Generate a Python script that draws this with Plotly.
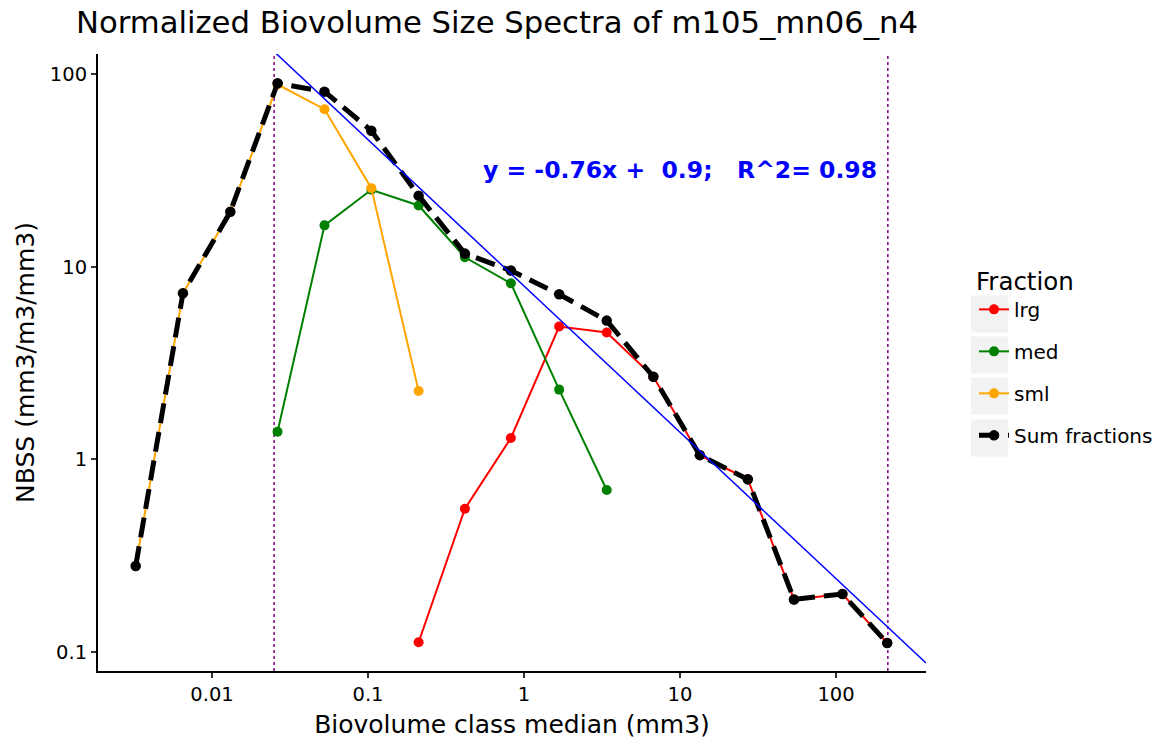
import numpy as np
import plotly.graph_objects as go

# ---------------- data ----------------
x_sum = [0.00324, 0.00651, 0.0131, 0.0263, 0.0526, 0.105, 0.211, 0.418, 0.824,
         1.68, 3.39, 6.75, 13.4, 27.2, 53.8, 110, 213]
y_sum = [0.279, 7.28, 19.3, 89.8, 81.2, 50.9, 23.4, 11.7, 9.55,
         7.19, 5.25, 2.68, 1.05, 0.787, 0.187, 0.1995, 0.111]

x_sml = [0.00324, 0.00651, 0.0131, 0.0263, 0.0526, 0.105, 0.211]
y_sml = [0.279, 7.28, 19.3, 88.4, 65.8, 25.6, 2.26]

x_med = [0.0263, 0.0526, 0.105, 0.211, 0.418, 0.824, 1.68, 3.39]
y_med = [1.39, 16.4, 25.1, 20.8, 11.2, 8.2, 2.30, 0.692]

x_lrg = [0.211, 0.418, 0.824, 1.68, 3.39, 6.75, 13.4, 27.2, 53.8, 110, 213]
y_lrg = [0.112, 0.553, 1.29, 4.89, 4.55, 2.68, 1.05, 0.787, 0.187, 0.1995, 0.111]

fraction_names = ["lrg", "med", "sml", "Sum fractions"]
fit_slope = -0.76
fit_intercept = 0.9
fit_r2 = 0.98
vlines_x = [0.025, 215]

x_ticks = [0.01, 0.1, 1, 10, 100]
x_ticktext = ["0.01", "0.1", "1", "10", "100"]
y_ticks = [0.1, 1, 10, 100]
y_ticktext = ["0.1", "1", "10", "100"]

title = "Normalized Biovolume Size Spectra of m105_mn06_n4"
x_title = "Biovolume class median (mm3)"
y_title = "NBSS (mm3/m3/mm3)"

# ---------------- layout constants ----------------
W, H = 1162, 740
ML, MR, MT, MB = 98, 236, 54, 69
XR = [-2.731, 2.577]
YR = [-1.100, 2.105]
FONT = "DejaVu Sans"

colors = {"lrg": "red", "med": "green", "sml": "orange", "Sum fractions": "black"}

fig = go.Figure()

# vertical dotted lines
ylo, yhi = 10 ** YR[0], 10 ** YR[1]
for xv in vlines_x:
    fig.add_trace(go.Scatter(x=[xv, xv], y=[ylo, yhi], mode="lines",
                             line=dict(color="purple", width=1.5, dash="dot"),
                             showlegend=False, hoverinfo="skip"))

series = [("lrg", x_lrg, y_lrg), ("med", x_med, y_med), ("sml", x_sml, y_sml)]
for name, xs, ys in series:
    fig.add_trace(go.Scatter(x=xs, y=ys, mode="lines+markers", name=name,
                             legendgroup=name,
                             line=dict(color=colors[name], width=2),
                             marker=dict(color=colors[name], size=10)))

fig.add_trace(go.Scatter(x=x_sum, y=y_sum, mode="lines+markers", name="Sum fractions",
                         legendgroup="Sum fractions",
                         line=dict(color="black", width=5, dash="20px,9px"),
                         marker=dict(color="black", size=10.5)))

# regression line (log10 space)
lx = np.array(XR)
fig.add_trace(go.Scatter(x=10 ** lx, y=10 ** (fit_slope * lx + fit_intercept), mode="lines",
                         line=dict(color="blue", width=1.5), showlegend=False, hoverinfo="skip"))

nb = "\u00a0"
eq_text = f"y = {fit_slope}x +{nb}{nb}{fit_intercept};{nb}{nb}{nb}R^2= {fit_r2}"
fig.add_annotation(x=np.log10(10), y=np.log10(31.8), xref="x", yref="y",
                   text=f"<b>{eq_text}</b>", showarrow=False,
                   font=dict(family=FONT, size=23.5, color="blue"),
                   xanchor="center", yanchor="middle")

# legend key backgrounds (ggplot-style)
pw = W - ML - MR
ph = H - MT - MB
def px2paper_x(px):
    return (px - ML) / pw
def px2paper_y(py):
    return (H - MB - py) / ph
for cy in [314, 355, 396, 438]:
    fig.add_shape(type="rect", xref="paper", yref="paper",
                  x0=px2paper_x(971), x1=px2paper_x(1008),
                  y0=px2paper_y(cy + 18.5), y1=px2paper_y(cy - 18.5),
                  fillcolor="#f2f2f2", line=dict(width=0), layer="below")

axis_common = dict(type="log", showline=True, linecolor="black", linewidth=2,
                   ticks="outside", ticklen=5, tickwidth=1.5, tickcolor="#333333",
                   showgrid=False, zeroline=False, automargin=False,
                   tickfont=dict(family=FONT, size=19.5, color="black"))

fig.update_layout(
    width=W, height=H,
    margin=dict(l=ML, r=MR, t=MT, b=MB, autoexpand=False),
    plot_bgcolor="white", paper_bgcolor="white",
    font=dict(family=FONT, color="black"),
    title=dict(text=title, x=497 / W, xanchor="center", xref="container",
               y=1 - 22 / H, yanchor="middle", yref="container", automargin=False,
               font=dict(family=FONT, size=30.7, color="black")),
    xaxis=dict(range=XR, tickvals=x_ticks, ticktext=x_ticktext,
               title=dict(text=x_title, font=dict(family=FONT, size=25, color="black"), standoff=10),
               **axis_common),
    yaxis=dict(range=YR, tickvals=y_ticks, ticktext=y_ticktext,
               title=dict(text=y_title, font=dict(family=FONT, size=25, color="black"), standoff=8),
               **axis_common),
    legend=dict(title=dict(text="Fraction", font=dict(family=FONT, size=24.5)),
                font=dict(family=FONT, size=20, color="black"),
                x=px2paper_x(974), xanchor="left",
                y=px2paper_y(258), yanchor="top",
                bgcolor="rgba(0,0,0,0)", tracegroupgap=13,
                traceorder="grouped"),
)

fig.write_html("out.html", config={"displayModeBar": False},
               post_script="document.body.style.margin='0px';")
